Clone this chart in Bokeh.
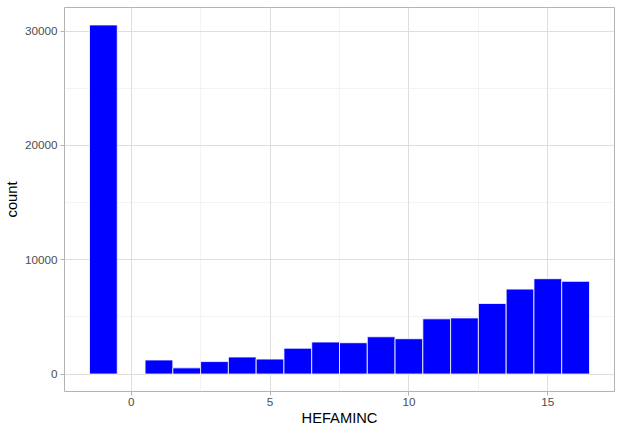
from bokeh.plotting import figure
from bokeh.models import FixedTicker, NumeralTickFormatter, Range1d, ColumnDataSource
from bokeh.embed import file_html
from bokeh.resources import INLINE

# data (binwidth 1)
hefaminc = [-1, 1, 2, 3, 4, 5, 6, 7, 8, 9, 10, 11, 12, 13, 14, 15, 16]
counts = [30540, 1230, 540, 1090, 1490, 1310, 2260, 2800, 2740, 3260, 3090,
          4830, 4910, 6170, 7430, 8340, 8110]
x_ticks = [0, 5, 10, 15]
y_ticks = [0, 10000, 20000, 30000]
x_label = "HEFAMINC"
y_label = "count"

binwidth = 1.0
src = ColumnDataSource(dict(
    left=[v - binwidth / 2 for v in hefaminc],
    right=[v + binwidth / 2 for v in hefaminc],
    top=counts,
    bottom=[0] * len(counts),
))

xmin = min(hefaminc) - binwidth / 2
xmax = max(hefaminc) + binwidth / 2
xpad = (xmax - xmin) * 0.05
ymax = max(counts)
ypad = ymax * 0.05

p = figure(width=615, height=428, output_backend="svg", toolbar_location=None,
           x_range=Range1d(xmin - xpad, xmax + xpad),
           y_range=Range1d(-ypad, ymax + ypad),
           min_border_left=64, min_border_right=1, min_border_top=7,
           min_border_bottom=37)

p.quad(left="left", right="right", top="top", bottom="bottom", source=src,
       fill_color="blue", line_color="white", line_width=0.8)

p.background_fill_color = "white"
p.border_fill_color = "white"
p.outline_line_color = "#B3B3B3"
p.outline_line_width = 1

p.xaxis.ticker = FixedTicker(ticks=x_ticks, minor_ticks=[-2.5, 2.5, 7.5, 12.5, 17.5])
p.yaxis.ticker = FixedTicker(ticks=y_ticks, minor_ticks=[-5000, 5000, 15000, 25000, 35000])
p.yaxis.formatter = NumeralTickFormatter(format="0")

for ax in (p.xaxis[0], p.yaxis[0]):
    ax.axis_line_color = None
    ax.major_tick_line_color = "#B3B3B3"
    ax.major_tick_out = 4
    ax.major_tick_in = 0
    ax.minor_tick_line_color = None
    ax.major_label_text_font = "Liberation Sans"
    ax.major_label_text_font_size = "11.7px"
    ax.major_label_text_color = "#4D4D4D"
    ax.axis_label_text_font = "Liberation Sans"
    ax.axis_label_text_font_size = "14.7px"
    ax.axis_label_text_color = "black"
    ax.axis_label_text_font_style = "normal"

p.xaxis.major_label_standoff = 2
p.xaxis.axis_label_standoff = 1
p.yaxis.major_label_standoff = 3
p.yaxis.axis_label_standoff = 2

p.xaxis.axis_label = x_label
p.yaxis.axis_label = y_label

for g in (p.xgrid[0], p.ygrid[0]):
    g.grid_line_color = "#DEDEDE"
    g.grid_line_width = 1
    g.minor_grid_line_color = "#EBEBEB"
    g.minor_grid_line_width = 0.6

open("out.html", "w").write(file_html(p, INLINE))
